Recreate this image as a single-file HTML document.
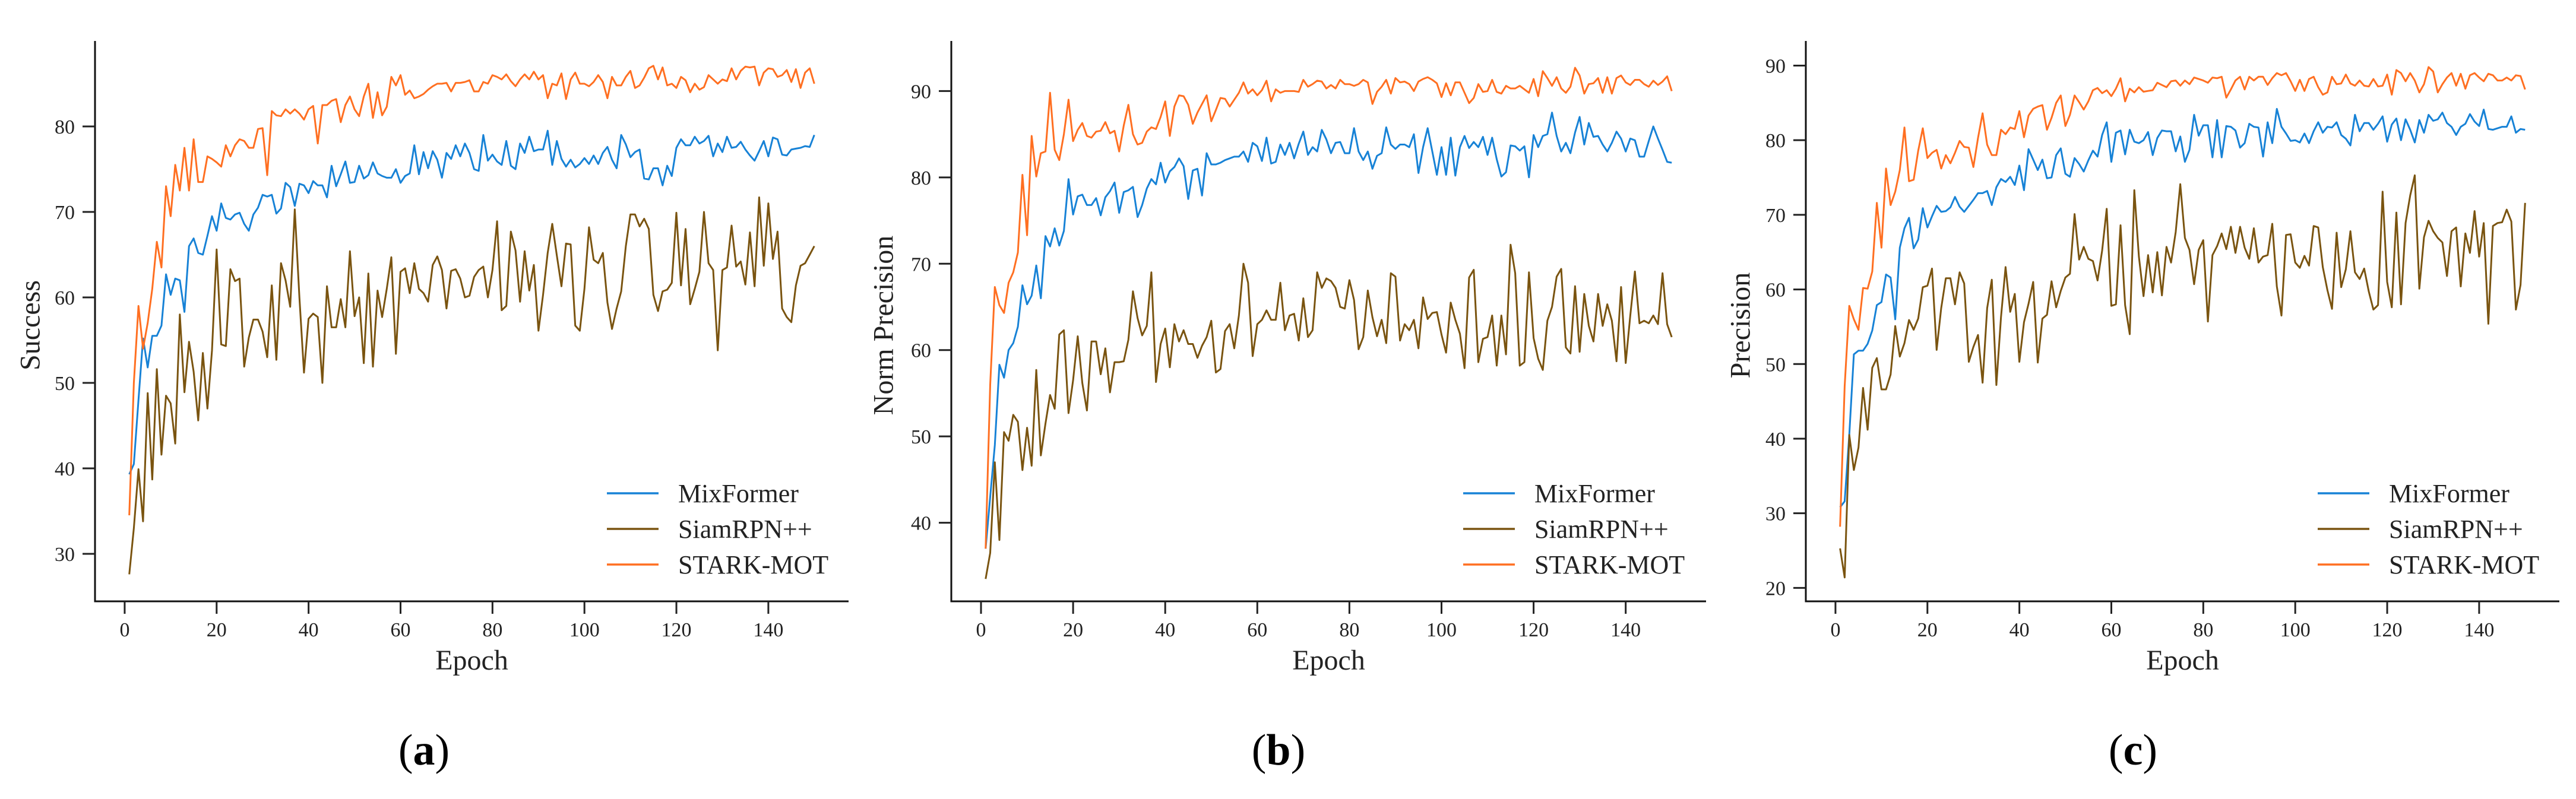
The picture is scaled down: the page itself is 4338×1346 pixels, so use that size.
<!DOCTYPE html>
<html><head><meta charset="utf-8"><style>
html,body{margin:0;padding:0;background:#fff;}
svg{display:block;font-family:"Liberation Serif",serif;}
</style></head><body>
<svg id="fig" width="4338" height="1346" viewBox="0 0 4338 1346" xmlns="http://www.w3.org/2000/svg"></svg>
<script>
const seriesNames = ["MixFormer","SiamRPN++","STARK-MOT"];
const xTicks = [0,20,40,60,80,100,120,140];
const yTicksA = [30,40,50,60,70,80];
const yTicksB = [40,50,60,70,80,90];
const yTicksC = [20,30,40,50,60,70,80,90];
const captions = ["a","b","c"];
const yTitles = ["Success","Norm Precision","Precision"];

const successMix = [39.3,40.5,48,55.2,51.8,55.5,55.5,56.7,62.7,60.3,62.2,62,58.3,66,66.9,65.2,65,67.2,69.5,67.8,71,69.3,69.1,69.7,69.9,68.6,67.8,69.7,70.5,72,71.8,72,69.8,70.4,73.4,72.9,70.7,73.3,73.1,72.2,73.6,73.1,73.1,71.7,75.4,73,74.4,75.9,73.4,73.5,75.4,73.9,74.3,75.8,74.5,74.2,74,74,75,73.4,74.2,74.5,77.8,74.4,77,75.1,77.1,76.1,74,76.9,76.2,77.8,76.5,78,76.9,75,74.8,79,76,76.7,75.9,75.5,78.3,75.4,75,78,76.9,78.8,77.1,77.3,77.3,79.5,75.5,78.3,76.2,75.3,76.1,75.2,75.6,76.3,75.6,76.6,75.6,76.9,77.6,76.1,75.1,79,77.9,76.4,77,77.3,73.9,73.8,75.1,75.1,73.1,75.4,74.2,77.5,78.5,77.8,77.8,78.8,78,78.3,78.9,76.5,78,77,78.8,77.5,77.6,78.2,77.3,76.6,76,77.1,78.3,76.5,78.7,78.5,76.7,76.6,77.3,77.4,77.5,77.7,77.6,79];
const successSiam = [27.6,33,39.9,33.8,48.8,38.7,51.6,41.6,48.5,47.6,42.9,58,48.9,54.8,51.3,45.6,53.5,47,53.8,65.6,54.5,54.3,63.3,61.9,62.2,51.9,55.3,57.4,57.4,56,53,61.4,52.7,64,62,58.9,70.3,60,51.2,57.5,58.1,57.7,50,61.3,56.5,56.5,59.8,56.5,65.4,57.8,60,52.3,62.8,51.9,60.8,57.7,61,64.7,53.4,63,63.4,60.5,64,61,60.5,59.5,63.8,64.8,63.2,58.7,63.1,63.3,62.2,60,60.2,62.4,63.2,63.6,60,63.2,68.9,58.5,59,67.7,65.5,59.5,65.4,60.8,63.8,56.1,60.3,65.2,68.6,64.9,61.3,66.3,66.2,56.7,56.1,61,68.2,64.4,64,65.2,59.4,56.3,58.7,60.7,66,69.7,69.7,68.3,69.2,68,60.3,58.4,60.7,60.9,61.7,69.9,61.4,68,59.2,61,63,70,64,63.2,53.8,63.2,63.5,68.4,63.6,64.2,61.5,67.6,61.3,71.7,63.7,71,64.5,67.7,58.7,57.7,57.1,61.4,63.7,64,65,66];
const successStark = [34.5,50,59,54,57,61,66.5,63.5,73,69.5,75.5,72.5,77.5,72.5,78.5,73.5,73.5,76.5,76.2,75.8,75.3,77.8,76.5,77.8,78.5,78.3,77.5,77.5,79.7,79.8,74.3,81.8,81.3,81.2,82,81.5,82,81.5,80.8,82,82.4,78,82.5,82.5,83,83.2,80.5,82.5,83.5,82,81.2,83.5,85,81,84,81.3,82.3,85.8,84.8,86,83.7,84.2,83.3,83.5,83.8,84.3,84.7,85,85,85.1,84.1,85.1,85.1,85.2,85.4,84.1,84.1,85.2,85,86,85.8,85.5,86.1,85.3,84.7,85.5,86.1,85.5,86.4,85.5,86,83.3,85,84.8,86.2,83.2,85.5,86.3,85,85,84.7,85.2,86,85.2,83.3,85.8,84.8,84.8,85.8,86.5,84.5,84.8,85.7,86.8,87.1,85.5,86.9,84.8,85,84.5,85.8,85.4,84,85,84.3,84.6,86,85.5,85,85.5,85.3,86.8,85.5,86.5,87,86.9,87,84.8,86.3,86.8,86.7,85.8,86,86.6,85.2,86.7,84.5,86.3,86.8,85];

const normMix = [37,43,49,58.3,56.8,60,60.8,62.7,67.5,65.3,66.3,69.8,66,73.2,72,74.1,72.1,73.8,79.8,75.7,77.8,78,76.8,76.8,77.6,75.6,77.7,78.4,79.4,75.9,78.3,78.5,78.9,75.4,76.8,78.7,79.8,79.2,81.7,79.4,80.7,81.2,82.2,81.3,77.5,80.8,81,77.9,82.8,81.5,81.5,81.7,82,82.2,82.4,82.4,83,81.8,84,83.6,81.9,84.6,81.6,81.8,83.8,82.6,84,82.2,83.9,85.3,82.6,83.5,83,85.5,84.4,82.8,84,84.1,82.8,82.8,85.7,83,82,83,81,82.5,82.8,85.8,83.8,83.3,83.8,83.8,83.5,85,80.5,83.5,85.7,83,80.3,83.5,80.3,84.6,80.2,83.5,84.8,83.4,84.1,83.5,84.7,82.6,84.6,82.1,80.1,80.6,83.7,83.6,83.1,83.6,80,84.9,83.5,84.8,85,87.5,84.8,83,84,82.8,85.2,87,83.8,86.3,84.7,84.8,83.8,83,84,85.3,84.5,83,84.5,84.3,82.4,82.4,84.2,85.9,84.5,83.2,81.8,81.7];
const normSiam = [33.5,36.5,47,38,50.5,49.5,52.5,51.7,46.1,51,46.6,57.7,47.8,51.5,54.8,53.2,61.8,62.3,52.7,56.5,61.6,56.2,53,61,61,57.2,60.2,55.1,58.6,58.6,58.7,61.2,66.8,63.7,61.7,62.8,69,56.3,60.7,62.5,58,63,61,62.3,60.7,60.7,59.1,60.5,61.5,63.4,57.4,57.8,62.2,63,60.2,64,70,67.8,59.3,63,63.5,64.6,63.5,63.5,67.8,62.3,64,64.2,61.1,66,61.5,62.3,69,67.2,68.3,68,67.2,65,64.8,68.1,65.8,60.1,61.5,66.9,63.8,61.6,63.5,60.8,68.9,68.5,61.1,63,62.3,63.5,60.2,66.1,63.6,64.3,64.4,61.8,59.7,65.5,63.5,61.9,57.9,68.4,69.3,58.6,61.3,61.5,64,58.2,64,59.5,72.2,68.9,58.2,58.6,69,61.4,59,57.7,63.4,65,68.5,69.4,60.3,59.6,67.4,59.8,66.5,62.8,61,66.5,62.8,65.3,63.4,58.7,67.3,58.5,64,69.1,63.1,63.4,63.1,64,63,68.9,63,61.5];
const normStark = [37,56,67.3,65.2,64.3,67.8,69,71.3,80.3,73.3,84.8,80.1,82.8,83,89.8,83.2,82,85,89,84.2,85.5,86.3,84.8,84.6,85.3,85.4,86.4,85.1,85.4,83,86,88.4,85,83.8,84,85.3,85.8,85.6,87,88.8,84.8,88.2,89.5,89.4,88.4,86.2,87.5,88.5,89.5,86.5,87.8,89.2,89.1,88.2,89,89.8,91,89.7,90.2,89.5,90.1,91.2,88.8,90.2,89.8,90,90,90,89.9,91.3,90.5,90.8,91.2,91.1,90.3,90.7,90.3,91.3,90.8,90.8,90.6,90.8,91.3,91,88.5,89.9,90.5,91.3,89.7,91.5,91,91.1,90.8,90,91.1,91.4,91.6,91.3,90.9,89.3,90.9,89.5,91,91,89.8,88.6,89.2,90.8,89.9,90,91.3,89.9,89.7,90.6,90.3,90.3,90.6,90.2,89.8,91.4,89.4,92.3,91.5,90.6,91.6,90.3,89.8,90.5,92.7,91.8,89.7,90.8,90.9,91.5,89.8,91.6,89.7,91.5,91.8,91,90.7,91.3,91.3,90.8,90.5,91.2,90.7,91.1,91.7,90];

const precMix = [30.8,31.6,40.5,51.3,51.8,51.8,52.7,54.5,57.9,58.3,62,61.6,56,65.6,68.2,69.6,65.5,66.7,70.9,68.3,69.8,71.2,70.4,70.5,71,72.4,71.1,70.4,71.2,72,72.9,72.9,73.2,71.3,73.7,74.8,74.4,75.1,74,76.6,73.3,78.8,77.4,76,77.4,74.9,75,78,78.9,75.5,75.1,77.6,76.8,75.8,77.3,78.6,77.8,80.7,82.4,77.1,81,81.3,78.1,81.4,79.8,79.6,80,81.1,78,80.3,81.3,81.2,81.2,78.5,80.5,77.1,78.7,83.4,80.6,82,82,77.7,82.7,77.7,81.9,81.8,81.3,79,79.6,82.2,81.8,81.7,77.8,82.4,79.6,84.2,81.8,80.9,79.9,80,79.7,80.9,79.6,81.2,82.4,81,81.8,81.7,82.4,80.7,80.2,79.3,83.4,81.2,82.3,82.3,81.4,82.2,83.2,79.8,82.1,82.9,80,82.8,81.4,79.7,82.7,81,83.4,82.6,82.8,83.7,82.3,81.8,80.7,81.8,82.2,83.5,82.5,81.9,84.1,81.5,81.4,81.6,81.8,81.8,83.2,81,81.5,81.4];
const precSiam = [25.3,21.4,40.5,35.8,38.8,46.8,41.2,49.5,50.8,46.6,46.6,48.6,55.1,51,52.8,55.9,54.6,56.1,60.3,60.5,62.8,51.9,57.5,61.5,61.5,58,62.3,60.8,50.3,52.3,53.9,47.5,57.5,61.3,47.2,56.3,63,57,59.4,50.3,55.6,58.1,61,50.2,56.1,56.6,61.1,57.6,59.8,61.6,62.1,70.1,64,65.7,64.1,63.8,61.2,65.2,70.8,57.8,58,68.6,57.9,54,73.3,64.4,59.1,64.6,59.6,65,59.2,65.7,63.6,67.7,74.1,66.9,65.3,60.7,65.3,66.6,55.7,64.6,65.8,67.5,65.4,68.4,64.9,68.4,65.6,64.1,68.2,63.6,64.4,64.6,68.8,60.4,56.5,67.3,67.4,63.6,62.9,64.5,63.2,68.5,68.3,63,59.9,57.4,67.6,60.3,62.7,67.8,62.3,61.4,62.8,59.7,57.3,57.9,73.1,61,57.6,70.3,58,68.9,72.6,75.3,60.1,67,69.2,67.8,66.9,66.3,61.8,67.8,68.3,60.4,67.5,64.9,70.5,64.4,68.9,55.4,68.5,68.9,69,70.7,69.1,57.3,60.6,71.6];
const precStark = [28.2,47,57.8,56,54.6,60.2,60.1,62.4,71.6,65.6,76.2,71.3,73.1,76,81.7,74.5,74.7,78.6,81.6,77.6,78.3,78.7,76.2,78,76.9,78.3,79.9,79.1,79,76.4,80.3,83.6,79.4,78,78,81.4,80.8,81.7,81.5,83.9,80.4,83.3,84.2,84.5,84.7,81.4,83,85,86,81.9,83.4,86,85.1,84.1,85.2,86.7,87,86.3,86.7,85.9,86.9,88.3,85.2,86.9,86.4,87.1,86.5,86.6,86.7,87.7,87.4,87.1,87.9,88,87.3,88,87.5,88.4,88.2,88,87.7,88.4,88.3,88.5,85.7,86.8,88,88.5,86.8,88.5,88,88.5,88.5,87.4,88.3,89,88.7,89,87.9,86.6,88.1,86.6,88.2,88.5,87.1,86.1,86.4,88.5,87.5,87.6,88.8,87.6,87.3,88,87.3,87.2,88.2,87.2,87.3,88.8,86.1,89.4,89,87.9,89,88,86.4,87.5,89.8,89.2,86.4,87.5,88.4,89,87.3,88.9,86.9,88.7,89,88.4,87.9,88.9,88.7,88,88,88.4,88,88.7,88.6,86.8];

const colors = ["#1782d6","#7a5410","#ff6f21"];
const NS = "http://www.w3.org/2000/svg";
const svg = document.getElementById("fig");
function mk(tag, attrs, parent){const e=document.createElementNS(NS,tag);for(const k in attrs)e.setAttribute(k,attrs[k]);(parent||svg).appendChild(e);return e;}

const panels = [
  {L:160,R:1429,ymin:24.44,ymax:90.0,yt:yTicksA,data:[successMix,successSiam,successStark],ylx:51,capx:714},
  {L:1602,R:2873,ymin:30.9,ymax:95.8,yt:yTicksB,data:[normMix,normSiam,normStark],ylx:1488,capx:2153},
  {L:3041,R:4310,ymin:18.2,ymax:93.3,yt:yTicksC,data:[precMix,precSiam,precStark],ylx:2931,capx:3592}
];
const TOP=69, BOT=1013, XMIN=-6.45, XMAX=157.45;

panels.forEach((p,pi)=>{
  const g = mk("g",{});
  
  
  const xs = v => p.L + (v-XMIN)/(XMAX-XMIN)*(p.R-p.L);
  const ys = v => BOT - (v-p.ymin)/(p.ymax-p.ymin)*(BOT-TOP);
  // series
  p.data.forEach((arr,si)=>{
    const pts = arr.map((v,i)=>xs(i+1).toFixed(1)+","+ys(v).toFixed(1)).join(" ");
    const pl = mk("polyline",{points:pts,fill:"none",stroke:colors[si],"stroke-width":3,"stroke-linejoin":"round"},g);
    
    
  });
  // axes
  const ya = mk("line",{x1:p.L,y1:TOP,x2:p.L,y2:BOT+1.5,stroke:"#111","stroke-width":3},g);
  
  
  const xa = mk("line",{x1:p.L-1.5,y1:BOT,x2:p.R,y2:BOT,stroke:"#111","stroke-width":3},g);
  
  
  xTicks.forEach(t=>{
    const x=xs(t);
    mk("line",{x1:x,y1:BOT,x2:x,y2:BOT+21,stroke:"#222","stroke-width":3},g);
    const tx=mk("text",{x:x,y:1072,"font-size":34,"text-anchor":"middle",fill:"#222"},g);
    tx.textContent=t;
    
    
  });
  p.yt.forEach(t=>{
    const y=ys(t);
    mk("line",{x1:p.L-21,y1:y,x2:p.L,y2:y,stroke:"#222","stroke-width":3},g);
    const tx=mk("text",{x:p.L-34,y:y+12,"font-size":34,"text-anchor":"end",fill:"#222"},g);
    tx.textContent=t;
    
    
  });
  const xt=mk("text",{x:(p.L+p.R)/2,y:1128,"font-size":48,"text-anchor":"middle",fill:"#222"},g);
  xt.textContent="Epoch";
  
  
  const yt=mk("text",{x:p.ylx,y:548,"font-size":48,"text-anchor":"middle","dominant-baseline":"central",fill:"#222",transform:`rotate(-90 ${p.ylx} 548)`},g);
  yt.textContent=yTitles[pi];
  
  
  // legend
  seriesNames.forEach((n,si)=>{
    const ry = 831 + si*60;
    const ll=mk("line",{x1:p.L+862,y1:ry,x2:p.L+949,y2:ry,stroke:colors[si],"stroke-width":3.5},g);
    
    
    const lt=mk("text",{x:p.L+982,y:ry+15,"font-size":44,fill:"#222"},g);
    lt.textContent=n;
    
    
  });
  const cap=mk("text",{x:p.capx,y:1288,"font-size":74,"text-anchor":"middle",fill:"#000"},g);
  cap.innerHTML='(<tspan font-weight="bold">'+captions[pi]+'</tspan>)';
  
  
});
</script>
</body></html>
